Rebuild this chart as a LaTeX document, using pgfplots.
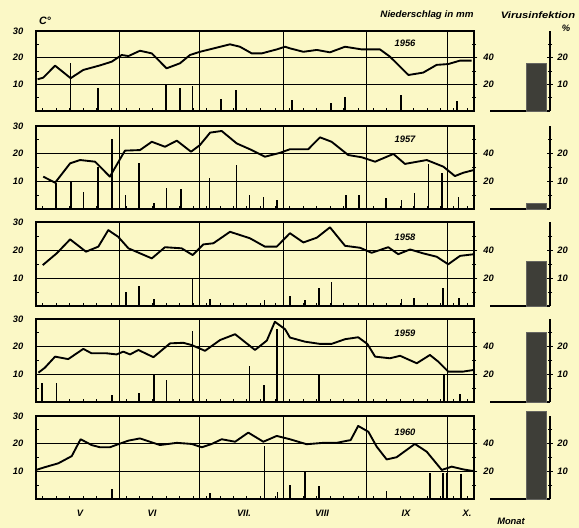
\documentclass[border=0pt]{standalone}
\usepackage{pgfplots}
\pgfplotsset{compat=1.18}
\usepackage{graphicx}
\usepackage{fontspec}
\setmainfont{Liberation Sans}
\definecolor{bg}{RGB}{251,248,198}
\definecolor{vir}{RGB}{62,62,56}
\newcommand{\lab}{\fontsize{7}{8}\selectfont\bfseries\itshape}
\newcommand{\hdr}{\fontsize{7}{8}\selectfont\bfseries\itshape}
\def\u{0.75pt}
\pgfplotsset{
  tempax/.style={
    scale only axis, width=328.5pt,
    xmin=0, xmax=163, ymin=0, ymax=30,
    axis line style={line width=1pt, -},
    xtick={31,61,92,123,153}, xticklabels={},
    xmajorgrids,
    minor xtick={2.5,7.5,12.5,17.5,22.5,28,33.5,38.5,43.5,48.5,53.5,58.5,63.5,68.5,73.5,78.5,83.5,89,94.5,99.5,104.5,109.5,114.5,120,125.5,130.5,135.5,140.5,145.5,150.5,155.5,160.5},
    xtick pos=left,
    ytick={10,20,30}, yticklabels={10,20,30},
    minor ytick={5,15,25},
    ytick pos=left,
    ymajorgrids,
    grid style={line width=0.65pt, black},
    major tick length=3pt, minor tick length=2.5pt,
    tick style={line width=0.7pt, black},
    yticklabel style={font=\lab, xshift=-6pt},
  },
  precax/.style={
    scale only axis, width=328.5pt,
    xmin=0, xmax=163, ymin=0, ymax=60,
    axis y line*=right, axis x line=none,
    axis line style={line width=1pt, -},
    ytick={20,40}, yticklabels={20,40}, minor ytick={10,30,50},
    tick align=center,
    major tick length=5pt, minor tick length=3pt,
    tick style={line width=0.7pt, black},
    yticklabel style={font=\lab, xshift=1pt},
  },
  virax/.style={
    scale only axis, width=45pt,
    xmin=0, xmax=60, ymin=0, ymax=30,
    axis x line*=bottom, axis y line*=right,
    axis line style={line width=1pt, -},
    xtick=\empty,
    ytick={10,20}, yticklabels={10,20}, minor ytick={5,15,25},
    tick align=center,
    major tick length=4pt, minor tick length=3pt,
    tick style={line width=0.7pt, black},
    clip=false,
    ybar, bar width=20,
    yticklabel style={font=\lab},
  },
  tline/.style={black, line width=1.4pt, line join=round, no marks},
  pbar/.style={ycomb, black, line width=1.1pt, no marks},
  vbar/.style={fill=vir, draw=vir!80, line width=0.6pt},
}
\begin{document}
\begin{tikzpicture}
\fill[bg] (0,0) rectangle (579*\u,-528*\u);

% ---------- 1956 ----------
\begin{axis}[tempax, height=60pt, at={(36*\u,-111*\u)}, anchor=south west]
\addplot[tline] coordinates {(0.6,11.9)(2.7,12.5)(7.1,17.0)(12.9,12.3)(17.6,15.4)(23.8,17.1)(28.2,18.5)(31.9,21.0)(34.4,20.6)(38.7,22.6)(43.1,21.6)(48.6,16.0)(53.6,17.9)(57.3,21.0)(61.0,22.2)(72.2,25.0)(75.9,24.1)(80.3,21.6)(84.0,21.6)(89.6,23.1)(92.7,24.1)(94.5,23.5)(99.5,22.2)(104.5,22.9)(109.4,22.0)(115.0,24.1)(121.2,23.1)(128.0,23.1)(131.7,20.4)(138.6,13.5)(144.1,14.4)(149.1,17.3)(153.4,17.6)(157.8,18.9)(162.1,18.9)};
\end{axis}
\begin{axis}[precax, height=60pt, at={(36*\u,-111*\u)}, anchor=south west]
\addplot[pbar] coordinates {(12.9,36.2)(23.0,17.5)(48.4,20.0)(53.6,17.0)(58.2,19.0)(68.8,8.8)(74.4,15.8)(95.2,8.3)(109.7,6.2)(115.0,10.7)(135.8,12)(156.6,7.7)};
\end{axis}
\begin{axis}[virax, height=60pt, at={(490*\u,-111*\u)}, anchor=south west]
\addplot[vbar] coordinates {(46,18)};
\end{axis}

% ---------- 1957 ----------
\begin{axis}[tempax, height=62.25pt, at={(36*\u,-209*\u)}, anchor=south west]
\addplot[tline] coordinates {(2.7,11.7)(7.1,9.5)(12.7,16.5)(16.4,17.7)(22.0,17.1)(27.5,11.7)(33.1,21.1)(38.7,21.3)(43.1,24.3)(48.0,22.5)(52.4,24.7)(57.7,20.7)(61.0,23.1)(64.8,27.6)(69.1,28.2)(74.7,23.7)(79.6,21.6)(85.2,18.9)(90.8,20.3)(94.5,21.6)(101.3,21.6)(105.7,25.9)(110.0,24.3)(116.2,19.5)(121.2,18.7)(126.2,17.1)(133.0,19.9)(137.3,16.3)(145.4,17.7)(151.6,15.3)(155.9,11.9)(159.0,13.1)(163,14.1)};
\end{axis}
\begin{axis}[precax, height=62.25pt, at={(36*\u,-209*\u)}, anchor=south west]
\addplot[pbar] coordinates {(7.4,19.0)(13.0,19.7)(17.6,12.5)(23.0,30.1)(28.2,50.4)(33.4,10.1)(38.3,33.1)(43.9,4.1)(48.6,15.4)(53.9,14.7)(64.5,22.6)(74.7,31.8)(79.4,10.1)(84.6,8.5)(89.6,6.5)(115.4,10.1)(120.2,10.1)(130.3,8.2)(136.1,6.5)(140.8,11.8)(146.1,32.5)(151.1,25.8)(157.2,8.5)};
\end{axis}
\begin{axis}[virax, height=62.25pt, at={(490*\u,-209*\u)}, anchor=south west]
\addplot[vbar] coordinates {(46,2)};
\end{axis}

% ---------- 1958 ----------
\begin{axis}[tempax, height=63pt, at={(36*\u,-306*\u)}, anchor=south west]
\addplot[tline] coordinates {(2.5,14.6)(7.7,18.8)(12.7,23.8)(18.6,19.4)(23.2,21.2)(26.9,27.1)(30.6,24.7)(34.4,20.6)(43.1,17.0)(48.0,21.0)(54.2,20.6)(58.3,18.2)(62.3,22.0)(66.0,22.4)(72.2,26.5)(79.6,24.2)(85.2,21.2)(89.6,21.2)(94.5,26.0)(99.5,22.7)(104.5,24.4)(109.4,28.1)(115.0,21.5)(120.6,20.8)(124.9,19.0)(131.1,21.0)(134.8,18.5)(139.2,20.2)(144.1,18.8)(149.1,17.6)(153.4,14.9)(157.8,17.9)(163,18.5)};
\end{axis}
\begin{axis}[precax, height=63pt, at={(36*\u,-306*\u)}, anchor=south west]
\addplot[pbar] coordinates {(33.5,10.2)(38.4,14.2)(43.9,4.8)(58.3,20)(64.8,5)(85.0,4)(94.5,7)(100.1,4)(105.4,13)(110.0,17.3)(136.1,5)(140.7,6)(151.4,13)(157.5,6)};
\end{axis}
\begin{axis}[virax, height=63pt, at={(490*\u,-306*\u)}, anchor=south west]
\addplot[vbar] coordinates {(46,16)};
\end{axis}

% ---------- 1959 ----------
\begin{axis}[tempax, height=62.25pt, at={(36*\u,-402*\u)}, anchor=south west]
\addplot[tline] coordinates {(0.9,10.6)(3.3,12.4)(7.1,16.4)(12.0,15.5)(17.6,19.2)(20.7,17.6)(26.3,17.6)(30.0,17.2)(32.5,18.2)(35.0,17.2)(38.1,18.8)(43.7,16.2)(49.9,21.2)(54.8,21.4)(57.9,20.6)(62.9,18.5)(68.5,22.4)(74.1,24.5)(81.5,18.8)(85.9,22.2)(88.9,29.0)(92.7,26.3)(94.5,23.3)(100.1,21.8)(105.7,21.0)(110.0,21.0)(115.0,22.7)(119.9,23.4)(123.3,21.0)(126.2,16.4)(131.7,15.8)(135.5,16.7)(141.7,14.0)(146.6,17.0)(149.7,14.6)(153.4,11.0)(159.0,11.0)(163,11.6)};
\end{axis}
\begin{axis}[precax, height=62.25pt, at={(36*\u,-402*\u)}, anchor=south west]
\addplot[pbar] coordinates {(2.3,14.0)(7.7,13.5)(28.2,5)(38.4,6.3)(43.9,20.2)(48.6,15.9)(58.2,51.3)(79.4,25.8)(84.9,12.3)(89.6,52.6)(105.4,19.5)(151.8,19.5)(157.8,5.6)};
\end{axis}
\begin{axis}[virax, height=62.25pt, at={(490*\u,-402*\u)}, anchor=south west]
\addplot[vbar] coordinates {(46,25)};
\end{axis}

% ---------- 1960 ----------
\begin{axis}[tempax, height=62.25pt, at={(36*\u,-499*\u)}, anchor=south west]
\addplot[tline] coordinates {(0,10.5)(3.3,11.5)(8.3,12.9)(13.3,15.5)(16.6,21.6)(20.7,19.5)(23.8,18.7)(27.5,18.7)(30.6,19.8)(34.4,21.1)(38.7,21.9)(46.1,19.5)(52.4,20.3)(57.9,19.9)(61.7,18.7)(65.4,19.9)(69.1,21.6)(74.1,20.7)(79.0,24.0)(84.6,20.7)(89.6,22.8)(94.5,21.6)(100.7,19.8)(106.9,20.3)(111.9,20.3)(117.1,21.3)(119.9,26.4)(123.7,24.3)(126.8,18.9)(130.5,14.3)(134.2,15.1)(141.0,19.9)(145.4,17.1)(151.0,10.5)(154.7,11.7)(159.0,10.7)(162.8,10.1)};
\end{axis}
\begin{axis}[precax, height=62.25pt, at={(36*\u,-499*\u)}, anchor=south west]
\addplot[pbar] coordinates {(28.2,7.0)(64.8,4)(85.0,38.3)(89.8,5)(94.5,10)(100.1,20.2)(105.4,9.4)(130.5,6)(146.6,19)(151.5,19)(152.8,19)(158.1,18.3)};
\end{axis}
\begin{axis}[virax, height=62.25pt, at={(490*\u,-499*\u)}, anchor=south west]
\addplot[vbar] coordinates {(46,31.5)};
\end{axis}

% ---------- texts ----------
\node[font=\lab] at (45*\u,-21*\u) {\fontsize{8}{9}\selectfont C\textdegree};
\node[font=\hdr] at (427*\u,-15*\u) {\scalebox{1.05}[1]{Niederschlag in mm}};
\node[font=\hdr] at (538*\u,-15*\u) {\scalebox{1.2}[1]{Virusinfektion}};
\node[font=\lab] at (566*\u,-28*\u) {\%};
\node[font=\lab] at (405*\u,-43*\u) {1956};
\node[font=\lab] at (405*\u,-139*\u) {1957};
\node[font=\lab] at (405*\u,-237*\u) {1958};
\node[font=\lab] at (405*\u,-333*\u) {1959};
\node[font=\lab] at (405*\u,-432*\u) {1960};
\node[font=\lab] at (80*\u,-513*\u) {V};
\node[font=\lab] at (152*\u,-513*\u) {VI};
\node[font=\lab] at (244*\u,-513*\u) {VII.};
\node[font=\lab] at (322*\u,-513*\u) {VIII};
\node[font=\lab] at (406*\u,-513*\u) {IX};
\node[font=\lab] at (467*\u,-513*\u) {X.};
\node[font=\lab] at (511*\u,-521*\u) {Monat};

\pgfresetboundingbox
\useasboundingbox (0,0) rectangle (579*\u,-528*\u);
\end{tikzpicture}
\end{document}
